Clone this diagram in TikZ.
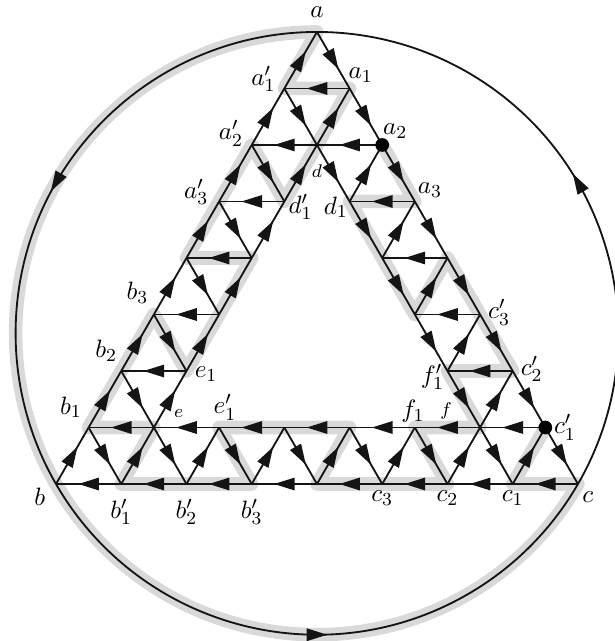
\documentclass[tikz,border=0pt]{standalone}
\usetikzlibrary{arrows.meta,decorations.markings,calc}
\begin{document}
\begin{tikzpicture}[
  edge/.style={line width=0.8pt, draw=black!92, postaction={decorate},
    decoration={markings, mark=at position 0.5 with {\pgftransformxshift{4.5pt}\arrow[black!92]{Triangle[length=9pt,width=5.4pt]}}}},
  hl/.style={line width=5.9pt, draw=black!15, line join=round, line cap=round},
  lbl/.style={font=\fontsize{11}{13}\selectfont, inner sep=0pt},
  slbl/.style={font=\fontsize{8}{10}\selectfont, inner sep=0pt},
  dot/.style={circle, fill=black, inner sep=0pt, minimum size=0.21cm},
]
\useasboundingbox (-0.858,-2.406) rectangle (8.567,7.418);
\foreach \i in {0,...,8}{
  \pgfmathtruncatemacro\jm{8-\i}
  \foreach \j in {0,...,\jm}{
    \coordinate (p-\i-\j) at ({\i+\j/2},{\j*0.866025});
  }
}
\def\R{4.618802}
% highlighted path
\draw[hl] (p-2-6) -- (p-3-5) -- (p-2-5) -- (p-3-4) -- (p-4-3) -- (p-4-4) -- (p-5-3) -- (p-6-2) -- (p-5-2) -- (p-6-1) -- (p-5-1) -- (p-6-0) -- (p-5-0) -- (p-4-0) -- (p-4-1) -- (p-3-1) -- (p-2-1) -- (p-3-0) -- (p-2-0) -- (p-1-0) -- (p-1-1) -- (p-0-1) -- (p-0-2) -- (p-0-3) -- (p-1-2) -- (p-1-3) -- (p-1-4) -- (p-0-4) -- (p-0-5) -- (p-0-6) -- (p-1-5) -- (p-1-6) -- (p-1-7) -- (p-0-7) -- (p-0-8) arc[start angle=90, end angle=330, radius=\R] -- (p-7-0) -- (p-7-1);
% horizontal edges (leftwards)
\foreach \i/\j in {0/0,1/0,2/0,3/0,4/0,5/0,6/0,7/0,0/1,1/1,2/1,3/1,4/1,5/1,6/1,0/2,5/2,0/3,4/3,0/4,3/4,0/5,2/5,0/6,1/6,0/7}{
  \pgfmathtruncatemacro\ii{\i+1}
  \draw[edge] (p-\ii-\j) -- (p-\i-\j);
}
% up-right edges
\foreach \i/\j in {0/0,0/1,0/2,0/3,0/4,0/5,0/6,0/7,1/0,1/1,1/2,1/3,1/4,1/5,1/6,2/0,3/0,4/0,5/0,6/0,7/0,2/5,3/4,4/3,5/2,6/1}{
  \pgfmathtruncatemacro\jj{\j+1}
  \draw[edge] (p-\i-\j) -- (p-\i-\jj);
}
% down-right edges
\foreach \i/\j in {0/0,0/1,0/2,0/3,0/4,0/5,0/6,0/7,1/6,2/5,3/4,4/3,5/2,6/1,7/0,1/5,2/4,3/3,4/2,5/1,6/0,1/0,2/0,3/0,4/0,5/0}{
  \pgfmathtruncatemacro\ii{\i+1}
  \pgfmathtruncatemacro\jj{\j+1}
  \draw[edge] (p-\i-\jj) -- (p-\ii-\j);
}
% circle
\draw[edge] (p-8-0) arc[start angle=-30, end angle=90, radius=\R];
\draw[edge] (p-0-8) arc[start angle=90, end angle=210, radius=\R];
\draw[edge] (p-0-0) arc[start angle=210, end angle=330, radius=\R];
% dots
\node[dot] (da2) at (p-2-6) {};
\node[dot] (dc1) at (p-7-1) {};
% labels
\node[lbl] (la) at ($(p-0-8)+(0,0.31)$) {$a$};
\node[lbl] (lap1) at ($(p-0-7)+(-0.32,0.15)$) {$a_1'$};
\node[lbl] (la1) at ($(p-1-7)+(0.17,0.21)$) {$a_1$};
\node[lbl] (lap2) at ($(p-0-6)+(-0.32,0.18)$) {$a_2'$};
\node[lbl] (la2) at ($(p-2-6)+(0.20,0.21)$) {$a_2$};
\node[slbl] (ld) at ($(p-1-6)+(0,-0.40)$) {$d$};
\node[lbl] (lap3) at ($(p-0-5)+(-0.35,0.15)$) {$a_3'$};
\node[lbl] (ldp1) at ($(p-1-5)+(0.25,-0.08)$) {$d_1'$};
\node[lbl] (ld1) at ($(p-2-5)+(-0.21,-0.09)$) {$d_1$};
\node[lbl] (la3) at ($(p-3-5)+(0.23,0.17)$) {$a_3$};
\node[lbl] (lb3) at ($(p-0-3)+(-0.25,0.33)$) {$b_3$};
\node[lbl] (lb2) at ($(p-0-2)+(-0.23,0.31)$) {$b_2$};
\node[lbl] (lb1) at ($(p-0-1)+(-0.27,0.31)$) {$b_1$};
\node[lbl] (le1) at ($(p-1-2)+(0.30,-0.05)$) {$e_1$};
\node[slbl] (le) at ($(p-1-1)+(0.38,0.22)$) {$e$};
\node[lbl] (lep1) at ($(p-2-1)+(0.09,0.31)$) {$e_1'$};
\node[lbl] (lf1) at ($(p-5-1)+(-0.03,0.25)$) {$f_1$};
\node[slbl] (lf) at ($(p-6-1)+(-0.52,0.26)$) {$f$};
\node[lbl] (lfp1) at ($(p-5-2)+(-0.23,-0.09)$) {$f_1'$};
\node[lbl] (lcp3) at ($(p-5-3)+(0.29,0.03)$) {$c_3'$};
\node[lbl] (lcp2) at ($(p-6-2)+(0.29,0.03)$) {$c_2'$};
\node[lbl] (lcp1) at ($(p-7-1)+(0.30,0)$) {$c_1'$};
\node[lbl] (lb) at ($(p-0-0)+(-0.25,-0.20)$) {$b$};
\node[lbl] (lbp1) at ($(p-1-0)+(0,-0.43)$) {$b_1'$};
\node[lbl] (lbp2) at ($(p-2-0)+(0,-0.43)$) {$b_2'$};
\node[lbl] (lbp3) at ($(p-3-0)+(0,-0.43)$) {$b_3'$};
\node[lbl] (lc3) at ($(p-5-0)+(0,-0.21)$) {$c_3$};
\node[lbl] (lc2) at ($(p-6-0)+(0,-0.21)$) {$c_2$};
\node[lbl] (lc1) at ($(p-7-0)+(0,-0.21)$) {$c_1$};
\node[lbl] (lc) at ($(p-8-0)+(0.15,-0.20)$) {$c$};
\end{tikzpicture}
\end{document}
